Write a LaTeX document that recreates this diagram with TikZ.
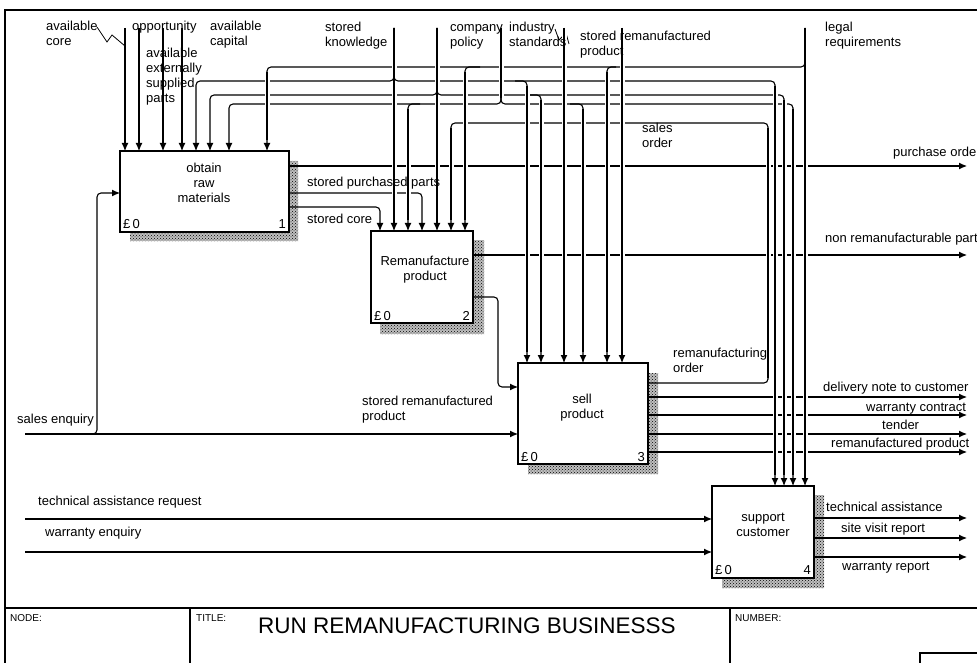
\documentclass[tikz,border=0pt]{standalone}
\usepackage{fontspec}
\setmainfont{Liberation Sans}
\usetikzlibrary{arrows.meta,patterns}
\newcommand{\lbl}{\fontsize{13}{15}\selectfont}
\newcommand{\frm}{\fontsize{10}{12}\selectfont}

\begin{document}
\begin{tikzpicture}[x=1pt,y=-1pt,every node/.style={font=\lbl,inner sep=0pt},
  flow/.style={line width=1.1pt,rounded corners=4pt},
  arr/.style={flow,-{Latex[length=8pt,width=7pt]}},
  gap/.style={line width=1.1pt,preaction={draw=white,line width=5pt}},
  box/.style={draw,line width=1.1pt,fill=white,inner sep=0pt,outer sep=0pt},
  hatch/.style={preaction={fill=black!25},pattern=crosshatch dots,pattern color=black}]
\useasboundingbox (0,0) rectangle (977,663);
% frame and title block
\draw[line width=1.1pt] (995,10) -- (5,10) -- (5,670);
\draw[line width=1.1pt] (5,608) -- (995,608);
\draw[line width=1.1pt] (190,608) -- (190,670);
\draw[line width=1.1pt] (730,608) -- (730,670);
\draw[line width=1.1pt] (920,670) -- (920,653) -- (995,653);
\node[font=\frm,anchor=base west] (fnode) at (10,621) {NODE:};
\node[font=\frm,anchor=base west] (ftitle) at (196,621) {TITLE:};
\node[font=\frm,anchor=base west] (fnum) at (735,621) {NUMBER:};
\node[font=\fontsize{22.5}{26}\selectfont,anchor=base west] (title) at (258,633) {RUN REMANUFACTURING BUSINESSS};

% activity boxes with their shadows
\fill[hatch] (289,161) -- (298,161) -- (298,241) -- (130,241) -- (130,232) -- (289,232) -- cycle;
\node[box,minimum width=169pt,minimum height=81pt] (b1) at (204.5,191.5) {};
\fill[hatch] (473,240) -- (484,240) -- (484,334) -- (380,334) -- (380,323) -- (473,323) -- cycle;
\node[box,minimum width=102pt,minimum height=92pt] (b2) at (422,277) {};
\fill[hatch] (648,373) -- (658,373) -- (658,474) -- (528,474) -- (528,464) -- (648,464) -- cycle;
\node[box,minimum width=130pt,minimum height=101pt] (b3) at (583,413.5) {};
\fill[hatch] (814,495) -- (824,495) -- (824,588) -- (722,588) -- (722,578) -- (814,578) -- cycle;
\node[box,minimum width=102pt,minimum height=92pt] (b4) at (763,532) {};

\node[align=center,anchor=base] (t1) at (204,203) {obtain\\raw\\materials};
\node[anchor=base west] (c1) at (123,229) {£\,0};
\node[anchor=base east] (k1) at (286,229) {1};
\node[align=center,anchor=base] (t2) at (425,280) {Remanufacture\\product};
\node[anchor=base west] (c2) at (374,320) {£\,0};
\node[anchor=base east] (k2) at (470,320) {2};
\node[align=center,anchor=base] (t3) at (582,418) {sell\\product};
\node[anchor=base west] (c3) at (521,461) {£\,0};
\node[anchor=base east] (k3) at (645,461) {3};
\node[align=center,anchor=base] (t4) at (763,536) {support\\customer};
\node[anchor=base west] (c4) at (715,574) {£\,0};
\node[anchor=base east] (k4) at (811,574) {4};

% inputs from the top boundary
\draw[arr] (125,28) -- (125,0 |- b1.north);
\draw[arr] (139,28) -- (139,0 |- b1.north);
\draw[arr] (163,28) -- (163,0 |- b1.north);
\draw[arr] (182,28) -- (182,0 |- b1.north);
\draw[line width=.8pt] (97,27) -- (107,42) -- (112,35) -- (125,46);
\draw[line width=.8pt] (555,29) -- (559,40) -- (566,33) -- (569,44);

% controls and their branches
\draw[arr] (805,28) -- (805,67) -- (267,67) -- (267,0 |- b1.north);
\draw[arr] (805,28) -- (805,0 |- b4.north);
\draw[arr] (394,28) -- (394,81) -- (196,81) -- (196,0 |- b1.north);
\draw[arr] (394,28) -- (394,81) -- (775,81) -- (775,0 |- b4.north);
\draw[arr] (394,28) -- (394,0 |- b2.north);
\draw[arr] (437,28) -- (437,95) -- (210,95) -- (210,0 |- b1.north);
\draw[arr] (437,28) -- (437,95) -- (784,95) -- (784,0 |- b4.north);
\draw[arr] (437,28) -- (437,0 |- b2.north);
\draw[arr] (501,28) -- (501,104) -- (229,104) -- (229,0 |- b1.north);
\draw[arr] (501,28) -- (501,104) -- (793,104) -- (793,0 |- b4.north);
\draw[arr] (564,28) -- (564,0 |- b3.north);
\draw[arr] (622,28) -- (622,0 |- b3.north);
\draw[arr] (480,67) -- (465,67) -- (465,0 |- b2.north);
\draw[arr] (616,67) -- (607,67) -- (607,0 |- b3.north);
\draw[arr] (515,81) -- (527,81) -- (527,0 |- b3.north);
\draw[arr] (530,95) -- (541,95) -- (541,0 |- b3.north);
\draw[arr] (570,104) -- (583,104) -- (583,0 |- b3.north);
\draw[arr] (420,104) -- (408,104) -- (408,0 |- b2.north);

% box to box and outputs
\draw[arr] (b1.east |- 0,166) -- (967,166);
\draw[arr] (b1.east |- 0,193) -- (422,193) -- (422,0 |- b2.north);
\draw[arr] (b1.east |- 0,207) -- (380,207) -- (380,0 |- b2.north);
\draw[arr] (b2.east |- 0,255) -- (967,255);
\draw[arr] (b2.east |- 0,297) -- (498,297) -- (498,387) -- (b3.west |- 0,387);
\draw[arr] (b3.east |- 0,383) -- (768,383) -- (768,123) -- (451,123) -- (451,0 |- b2.north);
\draw[arr] (b3.east |- 0,397) -- (967,397);
\draw[arr] (b3.east |- 0,415) -- (967,415);
\draw[arr] (b3.east |- 0,434) -- (967,434);
\draw[arr] (b3.east |- 0,452) -- (967,452);
\draw[arr] (25,434) -- (b3.west |- 0,434);
\draw[arr] (25,434) -- (97,434) -- (97,193) -- (b1.west |- 0,193);
\draw[arr] (25,519) -- (b4.west |- 0,519);
\draw[arr] (25,552) -- (b4.west |- 0,552);
\draw[arr] (b4.east |- 0,518) -- (967,518);
\draw[arr] (b4.east |- 0,538) -- (967,538);
\draw[arr] (b4.east |- 0,557) -- (967,557);

% crossings: the horizontal line is broken
\draw[gap] (394,28) -- (394,75);
\draw[gap] (394,87) -- (394,220);
\draw[gap] (437,28) -- (437,89);
\draw[gap] (437,101) -- (437,220);
\draw[gap] (501,28) -- (501,98);
\draw[gap] (564,28) -- (564,352);
\draw[gap] (622,28) -- (622,352);
\draw[gap] (805,28) -- (805,61);
\draw[gap] (805,73) -- (805,475);
\draw[gap] (465,72) -- (465,220);
\draw[gap] (607,72) -- (607,352);
\draw[gap] (527,86) -- (527,352);
\draw[gap] (541,100) -- (541,352);
\draw[gap] (583,109) -- (583,352);
\draw[gap] (408,109) -- (408,220);
\draw[gap] (267,72) -- (267,140);
\draw[gap] (775,86) -- (775,475);
\draw[gap] (784,100) -- (784,475);
\draw[gap] (793,109) -- (793,475);
\draw[gap] (768,128) -- (768,378);
\draw[gap] (451,128) -- (451,220);

% arrow labels
\node[align=left,anchor=base west] (avcore) at (46,46) {available\\core};
\node[anchor=base west] (opport) at (132,31) {opportunity};
\node[align=left,anchor=base west] (avcap) at (210,46) {available\\capital};
\node[align=left,anchor=base west] (avparts) at (146,103) {available\\externally\\supplied\\parts};
\node[align=left,anchor=base west] (stknow) at (325,47) {stored\\knowledge};
\node[align=left,anchor=base west] (cpolicy) at (450,47) {company\\policy};
\node[align=left,anchor=base west] (indstd) at (509,47) {industry\\standards};
\node[align=left,anchor=base west] (strem) at (580,56) {stored remanufactured\\product};
\node[align=left,anchor=base west] (legal) at (825,47) {legal\\requirements};
\node[align=left,anchor=base west] (sorder) at (642,148) {sales\\order};
\node[anchor=base west] (porder) at (893,157) {purchase order};
\node[anchor=base west] (stparts) at (307,187) {stored purchased parts};
\node[anchor=base west] (stcore) at (307,224) {stored core};
\node[anchor=base west] (nonrem) at (825,242) {non remanufacturable parts};
\node[align=left,anchor=base west] (rorder) at (673,372) {remanufacturing\\order};
\node[align=left,anchor=base west] (stprod) at (362,420) {stored remanufactured\\product};
\node[anchor=base west] (senq) at (17,423) {sales enquiry};
\node[anchor=base west] (dnote) at (823,391) {delivery note to customer};
\node[anchor=base west] (wcont) at (866,411) {warranty contract};
\node[anchor=base west] (tender) at (882,429) {tender};
\node[anchor=base west] (remprod) at (831,447) {remanufactured product};
\node[anchor=base west] (tareq) at (38,505) {technical assistance request};
\node[anchor=base west] (wenq) at (45,536) {warranty enquiry};
\node[anchor=base west] (tass) at (826,511) {technical assistance};
\node[anchor=base west] (svisit) at (841,532) {site visit report};
\node[anchor=base west] (wrep) at (842,570) {warranty report};
\end{tikzpicture}
\end{document}
